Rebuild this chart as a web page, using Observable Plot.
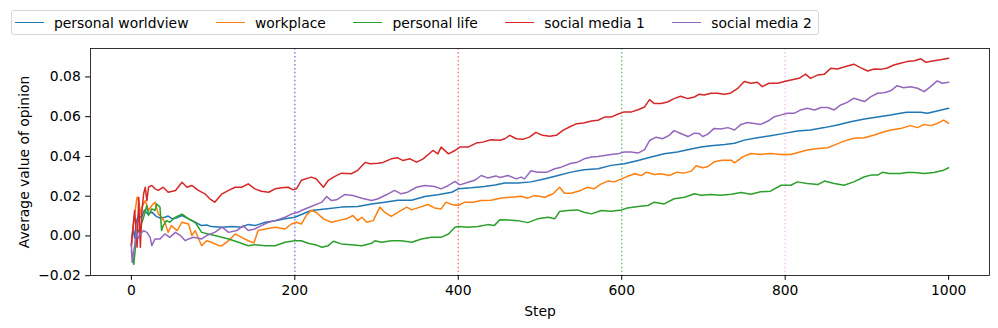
<!DOCTYPE html>
<html><head><meta charset="utf-8">
<script src="https://cdn.jsdelivr.net/npm/d3@7"></script>
<script src="https://cdn.jsdelivr.net/npm/@observablehq/plot@0.6"></script>
<style>
body{margin:0;background:#fff;font-family:"DejaVu Sans",sans-serif;}
#wrap{position:relative;width:998px;height:328px;}
#legend{position:absolute;left:11px;top:10px;height:25px;box-sizing:border-box;border:1px solid #d6d6d6;border-radius:3px;background:rgba(255,255,255,0.8);display:flex;align-items:center;padding:0 6px 0 3px;column-gap:27.5px;font-size:13.89px;color:#000;white-space:nowrap;}
.item{display:flex;align-items:center;}
.sw{width:29px;height:0;border-top:1.5px solid;margin-right:10px;}
</style></head><body><div id="wrap"><div id="chart"></div><div id="legend"></div></div>
<script>
const seriesNames = ["personal worldview", "workplace", "personal life", "social media 1", "social media 2"];
const seriesColors = ["#1f77b4", "#ff7f0e", "#2ca02c", "#d62728", "#9467bd"];
const xTicks = [0, 200, 400, 600, 800, 1000];
const yTicks = [-0.02, 0.00, 0.02, 0.04, 0.06, 0.08];
const markerSteps = [200, 400, 600, 800];
const markerColors = ["blue", "red", "green", "violet"];

const personalWorldview = [[0,-0.005],[2,0.004],[4,-0.001],[6,0.007],[9,0.011],[12,0.009],[16,0.013],[20,0.011],[25,0.012],[30,0.010],[35,0.009],[41,0.0094],[45,0.0100],[50,0.0086],[56,0.0092],[62,0.0103],[70,0.0086],[78,0.0069],[86,0.0052],[92,0.0055],[98,0.0047],[111,0.0044],[123,0.0047],[135,0.0044],[143,0.0058],[151,0.0052],[164,0.0069],[176,0.0077],[188,0.0086],[200,0.0094],[208,0.0108],[220,0.0128],[237,0.0136],[257,0.0145],[277,0.0148],[294,0.0161],[310,0.017],[326,0.018],[343,0.018],[359,0.0198],[375,0.0207],[392,0.022],[400,0.0237],[416,0.0242],[432,0.0249],[445,0.0256],[457,0.0266],[473,0.0266],[489,0.0272],[505,0.0287],[522,0.0304],[538,0.0321],[554,0.0333],[571,0.0338],[587,0.0355],[603,0.0363],[620,0.038],[636,0.0397],[652,0.0414],[668,0.0422],[685,0.0437],[697,0.0447],[709,0.0454],[726,0.046],[738,0.0466],[750,0.0482],[766,0.0494],[782,0.0504],[799,0.0516],[815,0.0528],[831,0.0533],[848,0.0545],[864,0.0558],[880,0.0575],[897,0.0588],[913,0.0598],[929,0.0608],[941,0.0617],[949,0.0622],[966,0.0622],[974,0.0617],[986,0.0629],[1000,0.0642]];

const workplace = [[0,-0.004],[3,0.008],[7,0.0195],[9,0.0178],[11,0.011],[13,0.0145],[17,0.0178],[21,0.0128],[25,0.0153],[29,0.017],[33,0.011],[37,0.0094],[41,0.0069],[45,0.0018],[49,0.0052],[56,0.0027],[62,0.0069],[70,0.006],[74,0.0002],[78,0.0027],[86,-0.0049],[92,-0.0024],[98,-0.0032],[107,-0.0049],[111,-0.0049],[119,-0.0024],[127,0.001],[135,-0.0007],[143,-0.0024],[150,-0.0035],[155,0.0027],[164,0.0035],[176,0.0044],[188,0.0035],[196,0.006],[202,0.0069],[208,0.006],[214,0.0103],[220,0.0128],[226,0.0119],[235,0.0086],[245,0.0069],[253,0.0077],[263,0.0086],[271,0.0103],[277,0.0077],[282,0.0094],[288,0.0069],[296,0.0077],[304,0.0145],[310,0.0119],[318,0.0098],[326,0.0119],[337,0.0145],[343,0.0131],[353,0.0145],[363,0.0158],[371,0.0141],[379,0.0136],[385,0.017],[392,0.0158],[400,0.0153],[408,0.017],[418,0.017],[428,0.0178],[440,0.0180],[453,0.0191],[465,0.0195],[477,0.02],[485,0.019],[493,0.0203],[506,0.0195],[516,0.0212],[524,0.0245],[530,0.0215],[538,0.0215],[550,0.0229],[558,0.0245],[566,0.0237],[575,0.0262],[583,0.0276],[591,0.0272],[600,0.0287],[607,0.03],[616,0.0313],[624,0.0304],[630,0.0321],[640,0.0309],[648,0.0313],[658,0.0304],[668,0.0321],[676,0.0316],[685,0.0326],[691,0.0353],[699,0.0343],[705,0.0348],[713,0.0373],[723,0.0381],[734,0.0381],[738,0.0368],[748,0.0398],[758,0.0415],[770,0.041],[782,0.0415],[795,0.041],[807,0.041],[819,0.0424],[827,0.0432],[840,0.044],[852,0.0444],[860,0.0457],[872,0.0477],[884,0.0491],[897,0.0494],[909,0.0508],[919,0.0522],[929,0.0533],[941,0.054],[953,0.0555],[962,0.0545],[970,0.0561],[978,0.0555],[986,0.0566],[994,0.0583],[1000,0.0566]];

const personalLife = [[0,-0.0074],[3,-0.0143],[5,-0.0057],[7,0.001],[11,0.0044],[15,0.0094],[19,0.0153],[21,0.0103],[25,0.0136],[29,0.0128],[31,0.0161],[35,0.0145],[37,0.0027],[39,0.0052],[43,0.0077],[47,0.0069],[54,0.0094],[62,0.011],[70,0.0086],[78,0.0069],[86,0.0018],[94,0.001],[107,-0.0003],[119,-0.0015],[131,-0.0032],[143,-0.0049],[151,-0.0044],[164,-0.0049],[176,-0.0049],[188,-0.0032],[200,-0.0024],[208,-0.0024],[216,-0.0037],[226,-0.0045],[233,-0.0057],[241,-0.0049],[247,-0.0027],[257,-0.004],[269,-0.0044],[282,-0.0049],[294,-0.0037],[298,-0.0024],[306,-0.0032],[318,-0.0024],[330,-0.0024],[343,-0.0032],[355,-0.0015],[367,-0.0007],[379,-0.0007],[388,0.001],[396,0.0044],[400,0.0047],[412,0.0044],[424,0.0047],[436,0.0057],[444,0.0052],[451,0.0082],[461,0.008],[473,0.0077],[485,0.0067],[497,0.0086],[510,0.0094],[518,0.0086],[524,0.0123],[534,0.0128],[546,0.0131],[554,0.0119],[563,0.0111],[575,0.0128],[587,0.0124],[600,0.0131],[607,0.0141],[620,0.0148],[632,0.0153],[640,0.017],[652,0.0161],[664,0.0187],[677,0.0195],[689,0.0212],[697,0.0205],[709,0.0208],[721,0.0205],[734,0.021],[746,0.0219],[758,0.021],[770,0.0222],[782,0.0225],[795,0.0255],[807,0.0255],[815,0.0272],[827,0.0264],[840,0.0259],[848,0.0276],[860,0.0264],[872,0.0255],[884,0.0272],[897,0.0298],[905,0.0306],[913,0.0306],[919,0.032],[927,0.0314],[933,0.0314],[941,0.0314],[949,0.0319],[958,0.0319],[970,0.0314],[982,0.0319],[994,0.0331],[1000,0.0343]];

const socialMedia1 = [[0,-0.0049],[2,0.0044],[4,0.0128],[7,-0.0057],[9,0.0195],[11,-0.0057],[13,0.0128],[15,0.0212],[17,0.0245],[19,0.0178],[21,0.0245],[25,0.0254],[29,0.0237],[33,0.0229],[39,0.0245],[45,0.022],[54,0.0229],[62,0.027],[68,0.0245],[74,0.0254],[82,0.0229],[90,0.0212],[96,0.0187],[102,0.017],[111,0.0212],[119,0.0229],[127,0.0245],[135,0.0245],[143,0.0262],[151,0.0237],[159,0.0225],[168,0.022],[176,0.0237],[184,0.0242],[192,0.0245],[198,0.0232],[202,0.0237],[208,0.028],[220,0.0296],[226,0.0288],[235,0.0245],[241,0.028],[249,0.030],[257,0.0316],[269,0.0313],[277,0.033],[286,0.037],[292,0.0363],[302,0.0366],[308,0.037],[318,0.0388],[326,0.0393],[332,0.038],[341,0.0388],[349,0.0371],[357,0.0388],[369,0.043],[375,0.0413],[379,0.0447],[388,0.0413],[396,0.043],[402,0.0447],[412,0.0447],[422,0.0467],[430,0.0472],[440,0.0484],[451,0.0481],[457,0.0489],[463,0.0506],[471,0.0489],[479,0.0486],[487,0.0497],[495,0.0521],[503,0.0506],[512,0.0501],[520,0.0506],[528,0.0531],[536,0.0548],[545,0.0565],[553,0.0568],[563,0.0578],[571,0.0582],[579,0.0598],[587,0.0598],[595,0.0612],[603,0.0624],[612,0.0624],[620,0.0635],[628,0.0649],[634,0.0686],[640,0.0666],[648,0.0666],[656,0.0674],[664,0.0691],[672,0.0703],[681,0.0691],[689,0.0699],[695,0.0713],[701,0.0709],[709,0.0718],[717,0.0718],[725,0.0713],[733,0.0718],[742,0.0743],[750,0.0777],[758,0.0768],[766,0.0773],[772,0.0751],[780,0.0768],[791,0.0768],[799,0.0777],[807,0.0785],[817,0.0793],[825,0.0814],[831,0.0793],[840,0.081],[848,0.0814],[856,0.0844],[864,0.084],[874,0.0852],[884,0.0864],[892,0.0847],[901,0.083],[909,0.084],[917,0.0838],[925,0.0845],[933,0.086],[941,0.0869],[949,0.0877],[958,0.0881],[966,0.0891],[972,0.0874],[982,0.0881],[990,0.0886],[1000,0.0894]];

const socialMedia2 = [[0,-0.004],[1,-0.0133],[4,-0.0049],[6,0.0027],[8,-0.0015],[11,0.001],[15,0.0027],[19,0.0018],[23,-0.0007],[25,-0.0049],[29,-0.0015],[35,-0.0015],[41,0.001],[47,-0.0007],[54,0.0018],[60,0.0002],[66,-0.0024],[70,-0.0015],[76,-0.0007],[86,-0.0015],[92,0.0002],[102,0.0018],[111,0.0044],[119,0.0018],[129,0.0027],[137,0.0052],[143,0.0027],[151,0.0035],[159,0.0052],[168,0.0069],[176,0.0077],[188,0.0094],[196,0.011],[204,0.0119],[208,0.0128],[220,0.0148],[233,0.017],[239,0.0198],[245,0.0178],[251,0.0182],[261,0.0208],[271,0.0203],[282,0.019],[294,0.0178],[302,0.0187],[312,0.0207],[322,0.0229],[330,0.0212],[338,0.022],[349,0.0245],[359,0.0254],[371,0.0249],[379,0.0237],[388,0.0254],[396,0.0274],[402,0.0257],[412,0.027],[420,0.028],[428,0.0304],[436,0.0292],[446,0.0302],[451,0.0294],[461,0.0304],[471,0.0287],[477,0.0296],[481,0.0287],[489,0.0328],[497,0.032],[508,0.032],[518,0.0338],[526,0.0346],[538,0.0366],[546,0.0371],[554,0.0388],[563,0.0397],[571,0.04],[579,0.0405],[587,0.041],[595,0.0413],[603,0.0422],[611,0.0422],[620,0.0417],[628,0.0434],[634,0.048],[642,0.0497],[650,0.0489],[658,0.0506],[664,0.053],[673,0.0514],[681,0.05],[689,0.0517],[695,0.0515],[699,0.05],[705,0.0511],[713,0.0541],[721,0.0538],[730,0.0545],[738,0.0533],[746,0.0561],[754,0.0571],[762,0.0566],[770,0.0561],[779,0.0578],[787,0.06],[795,0.0609],[803,0.0617],[811,0.0617],[819,0.0634],[827,0.0642],[836,0.0634],[844,0.0646],[852,0.0646],[860,0.0634],[868,0.0659],[876,0.0672],[884,0.0693],[891,0.0684],[897,0.0676],[905,0.0701],[913,0.0718],[921,0.072],[929,0.073],[937,0.0756],[945,0.0746],[953,0.0751],[962,0.0743],[970,0.0726],[978,0.0751],[986,0.078],[992,0.0768],[1000,0.0773]];

const seriesData = [personalWorldview, workplace, personalLife, socialMedia1, socialMedia2];

const chart = Plot.plot({
  width: 998,
  height: 328,
  marginLeft: 90,
  marginRight: 9,
  marginTop: 48,
  marginBottom: 53,
  style: {fontFamily: "DejaVu Sans", fontSize: "13.89px", background: "white", color: "black", overflow: "visible"},
  x: {domain: [-50, 1050], ticks: xTicks, tickFormat: d3.format("d"), tickSize: 4.86, tickPadding: 4.86, label: null},
  y: {domain: [-0.0199, 0.0943], ticks: yTicks, tickFormat: d3.format(".2f"), tickSize: 4.86, tickPadding: 4.86, label: null},
  marks: [
    ...markerSteps.map((s, i) => Plot.ruleX([s], {x: d => d, stroke: markerColors[i], strokeOpacity: 0.5, strokeWidth: 1.5, strokeDasharray: "1.5,2.475"})),
    ...seriesData.map((data, i) => Plot.line(data, {x: d => d[0], y: d => d[1], stroke: seriesColors[i], strokeWidth: 1.5, strokeLinejoin: "round"})),
    Plot.frame({stroke: "black", strokeWidth: 0.8}),
    Plot.text(["Step"], {text: d => d, frameAnchor: "bottom", dy: 36, lineAnchor: "middle", textAnchor: "middle", fontSize: 13.89}),
    Plot.text(["Average value of opinion"], {text: d => d, frameAnchor: "left", rotate: -90, dx: -66, textAnchor: "middle", lineAnchor: "middle", fontSize: 13.89})
  ]
});
document.getElementById("chart").appendChild(chart);

const legend = document.getElementById("legend");
seriesNames.forEach((name, i) => {
  const item = document.createElement("div");
  item.className = "item";
  const sw = document.createElement("span");
  sw.className = "sw";
  sw.style.borderTopColor = seriesColors[i];
  const label = document.createElement("span");
  label.textContent = name;
  item.appendChild(sw);
  item.appendChild(label);
  legend.appendChild(item);
});
</script></body></html>
